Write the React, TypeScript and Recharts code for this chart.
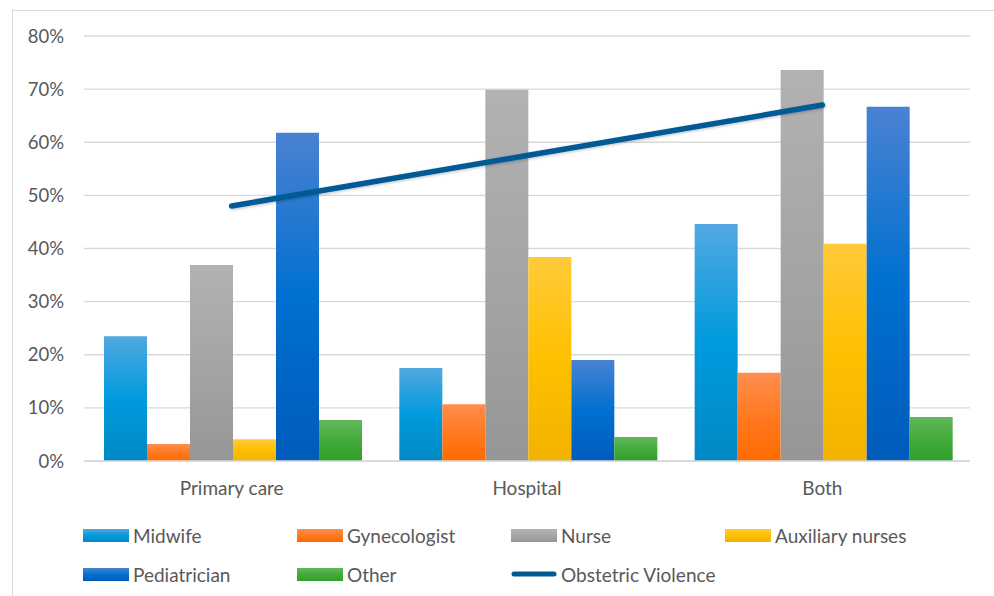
import { Bar, CartesianGrid, ComposedChart, Line, XAxis, YAxis } from 'recharts';

const categories = ['Primary care', 'Hospital', 'Both'];
const midwife = [23.5, 17.5, 44.6];
const gynecologist = [3.2, 10.7, 16.6];
const nurse = [36.9, 69.9, 73.6];
const auxiliary = [4.1, 38.4, 40.9];
const pediatrician = [61.8, 19.0, 66.7];
const other = [7.7, 4.5, 8.3];
const violence = [48.0, 57.5, 67.0];
const yTicks = [0, 10, 20, 30, 40, 50, 60, 70, 80];

const FONT = 'Lato, "Open Sans", sans-serif';
const TEXT = '#595959';

const SERIES = [
  { key: 'midwife', name: 'Midwife', stops: ['#52a8e0', '#009ade', '#0089c4'] },
  { key: 'gynecologist', name: 'Gynecologist', stops: ['#ff8e4e', '#ff7a20', '#ff6a00'] },
  { key: 'nurse', name: 'Nurse', stops: ['#b2b2b2', '#a5a5a5', '#969696'] },
  { key: 'auxiliary', name: 'Auxiliary nurses', stops: ['#ffca3a', '#ffc000', '#f2b200'] },
  { key: 'pediatrician', name: 'Pediatrician', stops: ['#4a82d2', '#0070d0', '#005bbb'] },
  { key: 'other', name: 'Other', stops: ['#60b85a', '#44aa3a', '#2ea02a'] },
];

const data = categories.map((name, i) => ({
  name,
  midwife: midwife[i],
  gynecologist: gynecologist[i],
  nurse: nurse[i],
  auxiliary: auxiliary[i],
  pediatrician: pediatrician[i],
  other: other[i],
  violence: violence[i],
}));

const legendItems = [
  ...SERIES,
  { key: 'violence', name: 'Obstetric Violence', stops: [] as string[] },
];

function Swatch({ item }: { item: (typeof legendItems)[number] }) {
  if (item.key === 'violence') {
    return (
      <svg width={46} height={14} style={{ display: 'block' }}>
        <line x1={3} y1={7} x2={43} y2={7} stroke="#005a96" strokeWidth={5} strokeLinecap="round" />
      </svg>
    );
  }
  return (
    <div
      style={{
        width: 46,
        height: 13,
        background: `linear-gradient(${item.stops[0]}, ${item.stops[1]}, ${item.stops[2]})`,
      }}
    />
  );
}

export default function App() {
  return (
    <div
      style={{
        position: 'fixed',
        left: 0,
        top: 0,
        width: 994,
        height: 596,
        overflow: 'hidden',
        background: '#fff',
        fontFamily: FONT,
      }}
    >
      <div
        style={{
          position: 'absolute',
          left: 12,
          top: 10,
          width: 1000,
          height: 600,
          border: '1px solid #d9d9d9',
        }}
      />
      <div style={{ position: 'absolute', left: 0, top: 0 }}>
        <ComposedChart
          width={994}
          height={520}
          data={data}
          margin={{ top: 36, right: 24, left: 0, bottom: 20 }}
          barGap={0}
          barCategoryGap={20}
        >
          <defs>
            {SERIES.map(s => (
              <linearGradient key={s.key} id={`grad-${s.key}`} x1="0" y1="0" x2="0" y2="1">
                <stop offset="0%" stopColor={s.stops[0]} />
                <stop offset="50%" stopColor={s.stops[1]} />
                <stop offset="100%" stopColor={s.stops[2]} />
              </linearGradient>
            ))}
            <filter id="shadow" x="-20%" y="-20%" width="140%" height="140%">
              <feDropShadow dx="1" dy="1" stdDeviation="1.5" floodColor="#000" floodOpacity="0.25" />
            </filter>
          </defs>
          <CartesianGrid vertical={false} stroke="#d9d9d9" strokeWidth={1.3} />
          <XAxis
            dataKey="name"
            height={39}
            axisLine={{ stroke: '#d9d9d9', strokeWidth: 1.3 }}
            tickLine={false}
            tickMargin={15}
            tick={{ fill: TEXT, fontSize: 19, fontFamily: FONT }}
          />
          <YAxis
            width={84}
            domain={[0, 80]}
            ticks={yTicks}
            axisLine={false}
            tickLine={false}
            tickSize={0}
            tickMargin={20}
            tickFormatter={v => `${v}%`}
            tick={{ fill: TEXT, fontSize: 18.5, fontFamily: FONT }}
          />
          {SERIES.map(s => (
            <Bar
              key={s.key}
              dataKey={s.key}
              name={s.name}
              fill={`url(#grad-${s.key})`}
              isAnimationActive={false}
            />
          ))}
          <Line
            type="linear"
            dataKey="violence"
            name="Obstetric Violence"
            stroke="#005a96"
            strokeWidth={5.5}
            strokeLinecap="round"
            dot={false}
            activeDot={false}
            filter="url(#shadow)"
            isAnimationActive={false}
          />
        </ComposedChart>
      </div>
      <div
        style={{
          position: 'absolute',
          left: 83,
          top: 524,
          display: 'grid',
          gridTemplateColumns: 'repeat(4, 214px)',
          rowGap: 17,
          color: TEXT,
          fontSize: 19,
        }}
      >
        {legendItems.map(item => (
          <div key={item.key} style={{ display: 'flex', alignItems: 'center', height: 22 }}>
            <Swatch item={item} />
            <span style={{ marginLeft: 4 }}>{item.name}</span>
          </div>
        ))}
      </div>
    </div>
  );
}
